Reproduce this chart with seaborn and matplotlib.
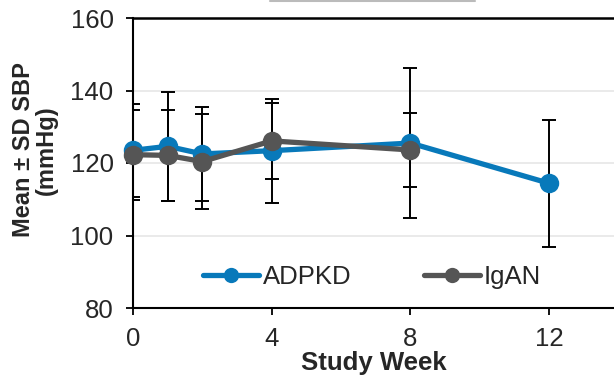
import matplotlib
matplotlib.use("Agg")
import matplotlib.pyplot as plt
from matplotlib.lines import Line2D
import seaborn as sns
import pandas as pd
import numpy as np

weeks_adpkd = [0, 1, 2, 4, 8, 12]
mean_adpkd = [123.5, 124.6, 122.5, 123.4, 125.5, 114.4]
sd_adpkd = [12.8, 15.0, 12.9, 14.3, 20.7, 17.6]

weeks_igan = [0, 1, 2, 4, 8]
mean_igan = [122.3, 122.1, 120.4, 126.1, 123.6]
sd_igan = [12.4, 12.6, 13.2, 10.4, 10.2]

series_names = ["ADPKD", "IgAN"]
colors = {"ADPKD": "#0879BA", "IgAN": "#555555"}
x_ticks = [0, 4, 8, 12]
y_ticks = [80, 100, 120, 140, 160]

sns.set_theme(style="white")
plt.rcParams["font.family"] = ["Liberation Sans", "DejaVu Sans"]

df = pd.concat([
    pd.DataFrame({"week": weeks_adpkd, "sbp": mean_adpkd, "sd": sd_adpkd, "group": "ADPKD"}),
    pd.DataFrame({"week": weeks_igan, "sbp": mean_igan, "sd": sd_igan, "group": "IgAN"}),
], ignore_index=True)

fig = plt.figure(figsize=(6.14, 3.78), dpi=100)
ax = fig.add_axes([133 / 614, 1 - 308 / 378, 1 - 133 / 614, (308 - 18) / 378])

for yv in [100, 120, 140]:
    ax.axhline(yv, color="#E8E8E8", lw=1.3, zorder=0)

for name in series_names:
    sub = df[df["group"] == name]
    ax.errorbar(sub["week"], sub["sbp"], yerr=sub["sd"], fmt="none", ecolor="black",
                elinewidth=1.4, capsize=5, capthick=1.4, zorder=1)

n_before = len(ax.lines)
sns.lineplot(data=df, x="week", y="sbp", hue="group", hue_order=series_names,
             palette=colors, marker="o", markersize=14, markeredgewidth=0,
             linewidth=3.8, ax=ax, zorder=3, errorbar=None, sort=True)
for ln in ax.lines[n_before:]:
    ln.set_clip_on(False)

ax.set_xlim(0, 13.87)
ax.set_ylim(80, 160)
ax.set_xticks(x_ticks)
ax.set_yticks(y_ticks)
ax.tick_params(axis="both", labelsize=18.5, length=5, width=1.3, color="black",
               direction="out", bottom=True, left=True)
ax.tick_params(axis="x", pad=9)
ax.tick_params(axis="y", pad=9)
ax.spines["right"].set_visible(False)
ax.spines["top"].set_visible(False)
for s in ["left", "bottom"]:
    ax.spines[s].set_color("black")
    ax.spines[s].set_linewidth(1.5)
ax.axhline(160, color="black", lw=1.8, clip_on=False, zorder=2)

ax.set_xlabel("Study Week", fontsize=18.5, fontweight="bold", labelpad=0)
ax.set_ylabel("Mean ± SD SBP\n(mmHg)", fontsize=17, fontweight="bold",
              linespacing=0.95)
ax.yaxis.set_label_coords(-0.157, 0.545)

leg = ax.legend(loc="center", bbox_to_anchor=(0.497, 0.107), ncol=2, frameon=False,
                fontsize=18.5, handlelength=2.2, columnspacing=2.8, handletextpad=0.15,
                borderaxespad=0)
for h in leg.legend_handles:
    h.set_markersize(11)

fig.add_artist(Line2D([270 / 614, 475 / 614], [1 - 0.5 / 378, 1 - 0.5 / 378],
                      transform=fig.transFigure, color="#BBBBBB", lw=1.5))

fig.savefig("out.png", dpi=100)
